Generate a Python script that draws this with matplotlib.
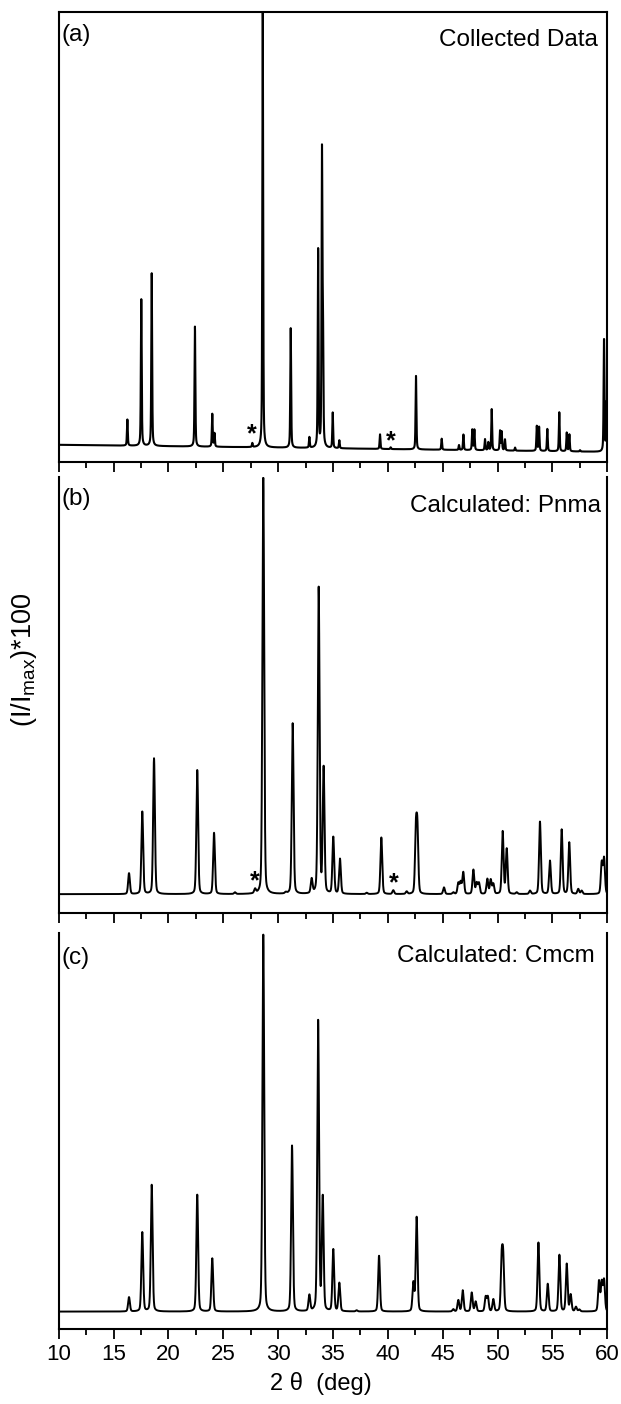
import numpy as np
import matplotlib
matplotlib.use('Agg')
import matplotlib.pyplot as plt
from matplotlib.ticker import MultipleLocator

plt.rcParams['font.family'] = ['Liberation Sans', 'DejaVu Sans']
plt.rcParams['mathtext.fontset'] = 'custom'
plt.rcParams['mathtext.rm'] = 'Liberation Sans'

# -------------------------------------------------------------------------------------------------------
# peak lists: 2theta (deg) and height, (I/Imax)*100
# -------------------------------------------------------------------------------------------------------
pos_a = [16.26, 17.53, 18.48, 22.42, 24.0, 24.2, 27.65, 28.6, 31.15, 32.85, 33.65, 34.0, 34.09,
         34.98, 35.58, 39.29, 40.26, 42.57, 44.91, 46.49, 46.89, 47.7, 47.89, 48.86, 49.16, 49.47,
         50.23, 50.38, 50.68, 51.6, 53.58, 53.79, 54.54, 55.63, 56.31, 56.55, 57.52, 59.71, 59.93]
h_a = [5.9, 33.1, 39.0, 27.1, 7.4, 3.0, 0.9, 100.0, 27.0, 2.4, 44.6, 65.2, 25.0,
       8.0, 1.8, 3.3, 0.4, 16.6, 2.5, 1.1, 3.5, 4.6, 4.6, 2.5, 1.8, 9.3,
       4.4, 4.2, 2.5, 0.7, 5.6, 5.4, 5.0, 8.8, 4.2, 3.8, 0.3, 25.3, 11.0]
bg_a = [2.3, 0.7]  # background level at 10 and 60 deg

pos_b = [16.41, 17.62, 18.69, 22.63, 24.16, 26.07, 27.9, 28.65, 30.7, 31.33, 33.06, 33.7, 34.15,
         35.03, 35.64, 38.08, 39.41, 40.5, 41.72, 42.56, 42.7, 45.12, 45.97, 46.43, 46.64, 46.88,
         47.8, 48.1, 48.31, 49.07, 49.38, 49.62, 50.47, 50.84, 51.75, 52.96, 53.87, 54.78, 55.85,
         56.54, 57.36, 57.67, 59.5, 59.71]
h_b = [5.0, 19.8, 32.6, 29.8, 14.7, 0.4, 1.0, 100.0, 0.3, 41.0, 3.4, 73.5, 30.0,
       13.6, 8.4, 0.3, 13.6, 0.9, 0.6, 14.5, 14.5, 1.6, 0.4, 2.6, 2.8, 5.2,
       5.8, 2.6, 2.6, 3.6, 3.4, 2.4, 15.0, 10.8, 0.4, 0.8, 17.4, 8.0, 15.5,
       12.4, 1.2, 0.8, 7.5, 8.5]

pos_c = [16.41, 17.62, 18.48, 22.63, 24.0, 28.65, 31.27, 32.85, 33.65, 34.07, 35.03, 35.58,
         37.16, 39.2, 42.33, 42.63, 45.97, 46.43, 46.83, 47.65, 48.01, 48.92, 49.12, 49.62,
         50.38, 50.52, 53.73, 54.58, 55.64, 56.31, 56.67, 57.15, 57.46, 59.25, 59.5, 59.71]
h_c = [3.8, 21.0, 33.6, 31.0, 14.1, 100.0, 44.0, 4.2, 77.0, 30.0, 16.4, 7.5,
       0.3, 14.8, 7.5, 25.0, 0.6, 3.0, 5.6, 5.0, 2.6, 3.8, 3.8, 3.2,
       13.2, 13.2, 18.3, 7.3, 15.0, 12.6, 4.4, 1.2, 0.5, 8.0, 7.6, 8.2]

star_a = [(27.62, 4.6), (40.3, 3.1)]
star_b = [(27.9, 3.0), (40.55, 2.7)]

labels = ['(a)', '(b)', '(c)']
titles = ['Collected Data', 'Calculated: Pnma', 'Calculated: Cmcm']


def pattern(x, pos, height, fwhm, eta):
    y = np.zeros_like(x)
    for p, h in zip(pos, height):
        d = (x - p) / fwhm
        g = np.exp(-4 * np.log(2) * d ** 2)
        l = 1 / (1 + 4 * d ** 2)
        y += h * (eta * l + (1 - eta) * g)
    return y


def main():
    tt = np.arange(10, 60.0001, 0.005)
    ya = pattern(tt, pos_a, h_a, 0.09, 0.45) + bg_a[0] + (bg_a[1] - bg_a[0]) * (tt - 10) / 50
    yb = pattern(tt, pos_b, h_b, 0.19, 0.25)
    yc = pattern(tt, pos_c, h_c, 0.19, 0.25)

    fig = plt.figure(figsize=(6.21, 14.04), dpi=100)
    rects = [[0.0945, 0.6712, 0.8833, 0.3200],
             [0.0945, 0.3495, 0.8833, 0.3110],
             [0.0945, 0.0532, 0.8833, 0.2821]]
    ylims = [(-1.5, 100), (-4.6, 100.3), (-4.7, 100.4)]
    data = [ya, yb, yc]
    title_y = [0.964, 0.958, 0.970]
    title_x = [0.983, 0.989, 0.978]
    label_y = [0.975, 0.975, 0.964]

    for i in range(3):
        ax = fig.add_axes(rects[i])
        ax.plot(tt, data[i], color='black', lw=1.5 if i == 0 else 1.4)
        ax.set_xlim(10, 60)
        ax.set_ylim(*ylims[i])
        ax.set_yticks([])
        ax.xaxis.set_major_locator(MultipleLocator(5))
        ax.xaxis.set_minor_locator(MultipleLocator(2.5))
        ax.tick_params(axis='x', which='major', direction='out', length=7.2, width=1.3,
                       labelsize=16, pad=3.5)
        ax.tick_params(axis='x', which='minor', direction='out', length=4.3, width=1.3)
        for s in ax.spines.values():
            s.set_linewidth(1.5)
        if i > 0:
            ax.spines['top'].set_visible(False)
        if i < 2:
            ax.tick_params(axis='x', labelbottom=False)
        ax.text(0.006, label_y[i], labels[i], transform=ax.transAxes, ha='left', va='top',
                fontsize=17.5)
        ax.text(title_x[i], title_y[i], titles[i], transform=ax.transAxes, ha='right', va='top',
                fontsize=17.5)
        stars = star_a if i == 0 else star_b if i == 1 else []
        for sx, sy in stars:
            ax.text(sx, sy, '*', ha='center', va='center', fontsize=18, fontweight='bold')
        if i == 2:
            ax.set_xlabel('2 θ  (deg)', fontsize=17)
            ax.xaxis.set_label_coords(0.478, -0.108)

    fig.text(24 / 621, 1 - 660 / 1404, '(I/I$_{\\mathregular{max}}$)*100', rotation=90,
             ha='center', va='center', fontsize=19.5)
    fig.savefig('out.png', dpi=100)


if __name__ == '__main__':
    main()
